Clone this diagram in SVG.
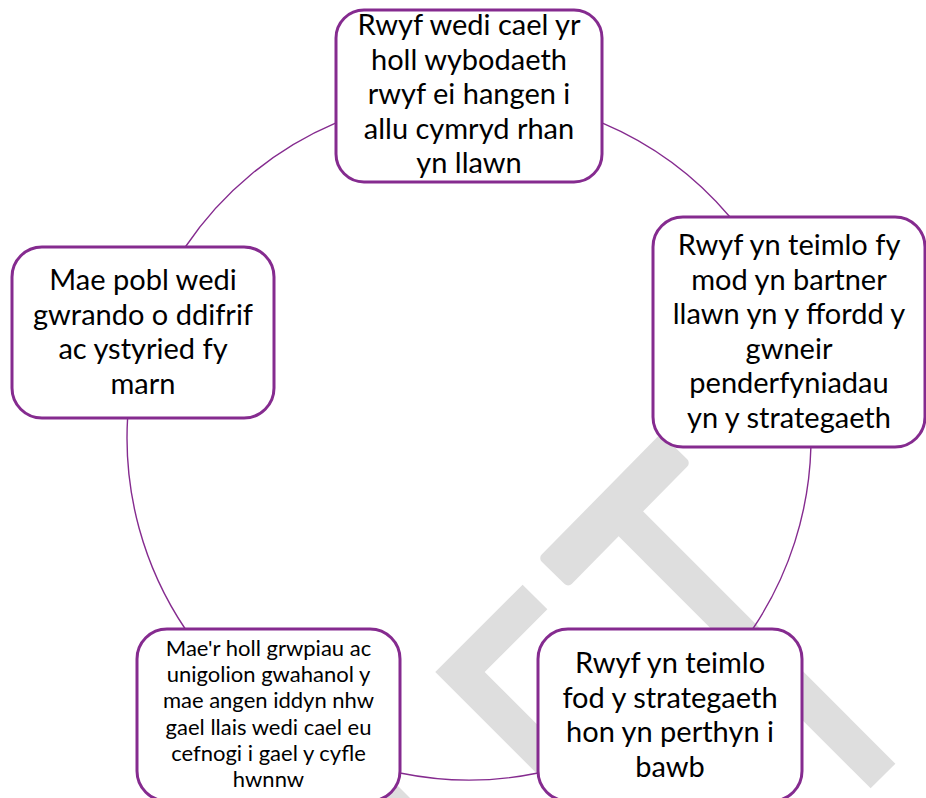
<svg xmlns="http://www.w3.org/2000/svg" width="926" height="798" viewBox="0 0 926 798">
<style>
.node{fill:#ffffff;stroke:#852b8f;stroke-width:3}
.conn{fill:none;stroke:#852b8f;stroke-width:1.4}
.wm{fill:#dedede;stroke:none}
.wml{fill:none;stroke:#dedede}
text{font-family:"Lato","Liberation Sans",sans-serif;fill:#000000;text-anchor:middle}
.big{font-size:29px}
.small{font-size:22px}
</style>
<rect width="926" height="798" fill="#ffffff"/>
<g id="watermark">
<rect class="wm" x="527" y="489.5" width="175" height="42" rx="5" transform="rotate(-45.5 614.5 510.5)"/>
<path class="wml" d="M617 510 L883 776" stroke-width="35"/>
<path class="wml" d="M535 597 L460 672 L600 812" stroke-width="35" stroke-linejoin="miter"/>
<path class="wm" d="M386 798 L398 786 L410 798 Z"/>
</g>
<g id="connectors">
<path class="conn" d="M602 122.9 A342 342 0 0 1 730 217"/>
<path class="conn" d="M810.9 447 A342 342 0 0 1 752.7 629"/>
<path class="conn" d="M538 773 A342 342 0 0 1 400 773"/>
<path class="conn" d="M185.3 629 A342 342 0 0 1 127.6 418"/>
<path class="conn" d="M185.3 247 A342 342 0 0 1 336 122.9"/>
</g>
<g id="node-top">
<rect class="node" x="336" y="10" width="266" height="172" rx="28"/>
<text class="big" x="469" y="35">Rwyf wedi cael yr</text>
<text class="big" x="469" y="69.6">holl wybodaeth</text>
<text class="big" x="469" y="104.2">rwyf ei hangen i</text>
<text class="big" x="469" y="138.8">allu cymryd rhan</text>
<text class="big" x="469" y="173.4">yn llawn</text>
</g>
<g id="node-right">
<rect class="node" x="653" y="217" width="272" height="230" rx="30"/>
<text class="big" x="789" y="255">Rwyf yn teimlo fy</text>
<text class="big" x="789" y="289.6">mod yn bartner</text>
<text class="big" x="789" y="324.2">llawn yn y ffordd y</text>
<text class="big" x="789" y="358.8">gwneir</text>
<text class="big" x="789" y="393.4">penderfyniadau</text>
<text class="big" x="789" y="428">yn y strategaeth</text>
</g>
<g id="node-bottom-right">
<rect class="node" x="538" y="629" width="264" height="172" rx="30"/>
<text class="big" x="670" y="673">Rwyf yn teimlo</text>
<text class="big" x="670" y="707.6">fod y strategaeth</text>
<text class="big" x="670" y="742.2">hon yn perthyn i</text>
<text class="big" x="670" y="776.8">bawb</text>
</g>
<g id="node-bottom-left">
<rect class="node" x="137" y="629" width="263" height="172" rx="30"/>
<text class="small" x="268.5" y="656">Mae'r holl grwpiau ac</text>
<text class="small" x="268.5" y="682.2">unigolion gwahanol y</text>
<text class="small" x="268.5" y="708.4">mae angen iddyn nhw</text>
<text class="small" x="268.5" y="734.6">gael llais wedi cael eu</text>
<text class="small" x="268.5" y="760.8">cefnogi i gael y cyfle</text>
<text class="small" x="268.5" y="787">hwnnw</text>
</g>
<g id="node-left">
<rect class="node" x="12" y="247" width="262" height="171" rx="30"/>
<text class="big" x="143" y="290">Mae pobl wedi</text>
<text class="big" x="143" y="324.6">gwrando o ddifrif</text>
<text class="big" x="143" y="359.2">ac ystyried fy</text>
<text class="big" x="143" y="393.8">marn</text>
</g>
</svg>
